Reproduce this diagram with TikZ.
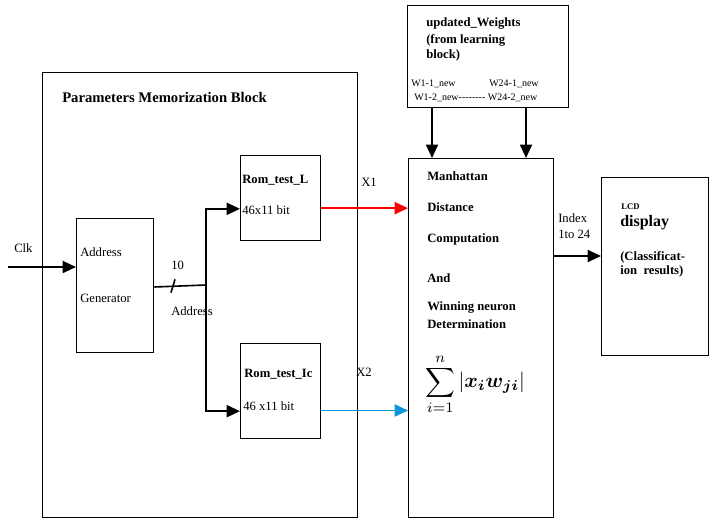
\documentclass[tikz,border=0pt]{standalone}
\usepackage{fontspec}
\usepackage{bm}
\setmainfont{Liberation Serif}
\usetikzlibrary{arrows.meta}
\tikzset{
  blk/.style={draw, line width=1pt, anchor=north west, inner sep=0pt},
  arr/.style={line width=1.4pt, -{Triangle[length=10pt,width=9pt]}},
  txt/.style={anchor=west, inner sep=0pt, font=\fontsize{9.5}{11}\selectfont},
  btxt/.style={txt, font=\fontsize{9.5}{11}\selectfont\bfseries},
  stxt/.style={txt, font=\fontsize{7.5}{9}\selectfont},
}
\begin{document}
\begin{tikzpicture}[x=0.75pt,y=-0.75pt]
\useasboundingbox (0,0) rectangle (709,523);
% boxes
\node[blk, minimum width=236.25pt, minimum height=333.75pt] (mem) at (42,72) {};
\node[blk, minimum width=57.75pt, minimum height=100.5pt] (gen) at (76,218) {};
\node[blk, minimum width=60pt, minimum height=63.75pt] (romL) at (240,155) {};
\node[blk, minimum width=60pt, minimum height=71.25pt] (romIc) at (240,343) {};
\node[blk, minimum width=108.75pt, minimum height=269.25pt] (manh) at (408,158) {};
\node[blk, minimum width=120.75pt, minimum height=76.5pt] (wts) at (407,5) {};
\node[blk, minimum width=80.25pt, minimum height=133.5pt] (lcd) at (601,177) {};
% texts
\node[btxt, font=\fontsize{11}{13}\selectfont\bfseries] (memT) at (62,97) {Parameters Memorization Block};
\node[txt] (genA) at (80,252) {Address};
\node[txt] (genG) at (80,298) {Generator};
\node[btxt] (romLT) at (242,180) {Rom\_test\_L};
\node[txt] (romLS) at (242,210) {46x11 bit};
\node[btxt] (romIcT) at (244,374) {Rom\_test\_Ic};
\node[txt] (romIcS) at (243,406) {46 x11 bit};
\node[btxt] (wtsA) at (426,24) {updated\_Weights};
\node[btxt] (wtsB) at (426,40) {(from learning};
\node[btxt] (wtsC) at (426,55) {block)};
\node[stxt] (w11) at (411,84) {W1-1\_new};
\node[stxt] (w241) at (489,84) {W24-1\_new};
\node[stxt] (w12) at (414,98) {W1-2\_new{-}{-}{-}{-}{-}{-}{-}{-} W24-2\_new};
\node[btxt] (m1) at (427,176) {Manhattan};
\node[btxt] (m2) at (427,207) {Distance};
\node[btxt] (m3) at (427,239) {Computation};
\node[btxt] (m4) at (427,278) {And};
\node[btxt] (m5) at (427,308) {Winning neuron};
\node[btxt] (m6) at (427,324) {Determination};
\node[anchor=west, inner sep=0pt] (sum) at (425,384)
  {\scalebox{1.55}{$\displaystyle\sum_{i=1}^{n}\left|\bm{x_i w_{ji}}\right|$}};
\node[btxt, font=\fontsize{6.5}{8}\selectfont\bfseries] (lcdA) at (621,207) {LCD};
\node[btxt, font=\fontsize{12}{14}\selectfont\bfseries] (lcdB) at (620,223) {display};
\node[btxt] (lcdC) at (620,257) {(Classificat-};
\node[btxt] (lcdD) at (620,271) {ion\ \ results)};
\node[txt] (clkT) at (14,248) {Clk};
\node[txt] (busN) at (171,265) {10};
\node[txt] (busA) at (171,311) {Address};
\node[txt] (x1) at (361,182) {X1};
\node[txt] (x2) at (356,372) {X2};
\node[txt] (idxA) at (558,218) {Index};
\node[txt] (idxB) at (558,234) {1to 24};
% connectors
\coordinate (clk) at (8,267);
\coordinate (bus) at (206,285);
\coordinate (slash) at (173,286);
\draw[arr] (clk) -- (clk -| gen.west);
\draw[line width=1.2pt] (gen.east |- 0,287) -- (bus);
\draw[line width=1.2pt] ([xshift=-1.5pt,yshift=-5pt]slash) -- ([xshift=1.5pt,yshift=5pt]slash);
\draw[arr] (bus) |- ([yshift=-8pt]romL.west);
\draw[arr] (bus) |- ([yshift=-15pt]romIc.west);
\draw[arr, red] ([yshift=-7.5pt]romL.east) -- ([yshift=-7.5pt]romL.east -| manh.west);
\draw[arr, cyan!80!blue] ([yshift=-14.5pt]romIc.east) -- ([yshift=-14.5pt]romIc.east -| manh.west);
\draw[arr] (wts.south -| 432,0) -- (manh.north -| 432,0);
\draw[arr] (wts.south -| 526,0) -- (manh.north -| 526,0);
\draw[arr] (manh.east |- 0,256) -- (lcd.west |- 0,256);
\end{tikzpicture}
\end{document}
